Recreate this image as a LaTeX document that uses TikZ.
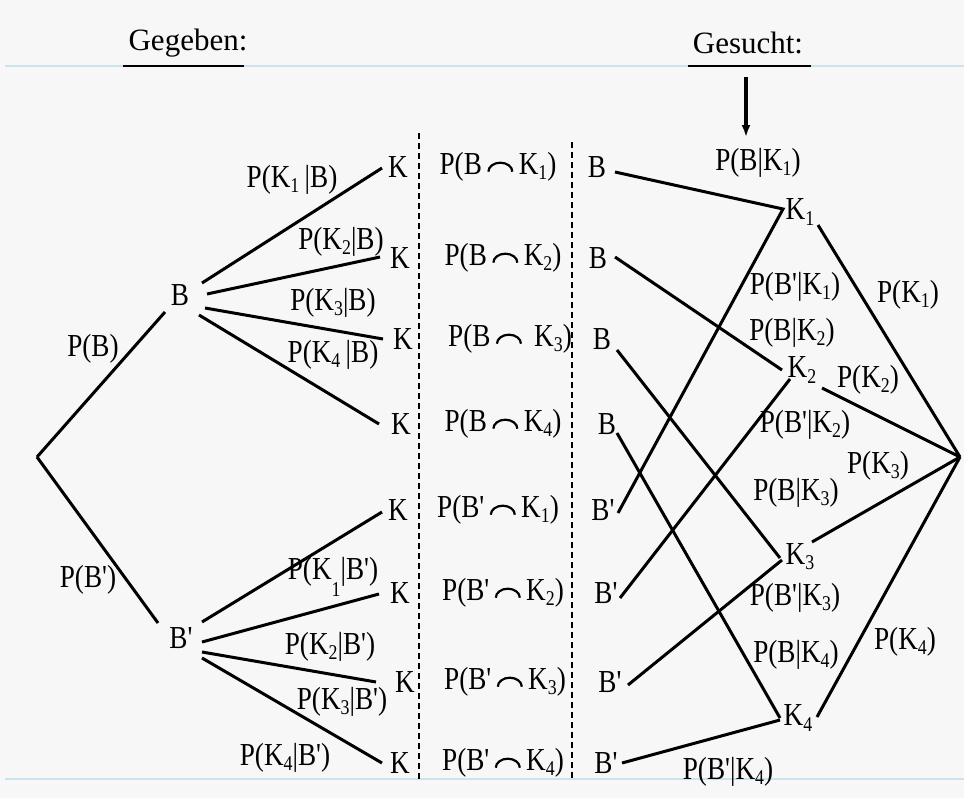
\documentclass[tikz,border=0pt]{standalone}
\usepackage{fontspec}
\newfontfamily\tnr{Liberation Serif}[FakeStretch=0.85]
\newfontfamily\tnh{Liberation Serif}
\usetikzlibrary{arrows.meta}
\newcommand\ix[1]{\raisebox{-0.35ex}{\fontsize{21}{21}\selectfont #1}}
\newcommand\cp{\,\tikz[baseline=0pt,x=1pt,y=1pt]\draw[line width=2.2pt] (0,3) arc[start angle=180,end angle=0,x radius=12,y radius=9];\,}
\definecolor{bg}{HTML}{F7F7F7}
\definecolor{rule}{HTML}{CBE3EC}
\begin{document}
\begin{tikzpicture}[x=1pt,y=-1pt,
  lab/.style={font=\tnr\fontsize{32}{35}\selectfont, inner sep=0pt},
  head/.style={font=\tnh\fontsize{31}{34}\selectfont, inner sep=0pt},
  edge/.style={line width=3pt},
  sep/.style={line width=1.8pt, dash pattern=on 6pt off 4pt},
  hline/.style={rule, line width=1.2pt}]
\useasboundingbox (0,0) rectangle (964,798);
\fill[bg] (0,0) rectangle (964,798);
\draw[hline] (5,66) -- (964,66);
\draw[hline] (5,779) -- (964,779);

% headers
\node[head] (geg) at (188,43) {Gegeben:};
\node[head] (ges) at (748,43) {Gesucht:};
\draw[line width=2.6pt] (123,66) -- (244,66);
\draw[line width=2.6pt] (688,66) -- (811,66);
\coordinate (arrS) at (746,77);
\coordinate (arrE) at (746,137);
\draw[line width=3.2pt, -{Latex[length=12pt,width=9pt]}] (arrS) -- (arrE);

% separators
\coordinate (s1t) at (419,133); \coordinate (s1b) at (419,779);
\coordinate (s2t) at (572,142); \coordinate (s2b) at (572,779);
\draw[sep] (s1t) -- (s1b);
\draw[sep] (s2t) -- (s2b);

% left tree
\coordinate (root) at (37,457);
\node[lab] (B) at (180,295) {B};
\node[lab] (Bp) at (181,638) {B'};
\coordinate (Bin) at (165,312);
\coordinate (Bpin) at (158,623);
\draw[edge] (root) -- (Bin);
\draw[edge] (root) -- (Bpin);
\node[lab] (pB) at (93,349) {P(B)};
\node[lab] (pBp) at (88,580) {P(B')};

% left K nodes
\node[lab] (k1) at (398,167) {K};
\node[lab] (k2) at (400,258) {K};
\node[lab] (k3) at (403,339) {K};
\node[lab] (k4) at (401,424) {K};
\node[lab] (k5) at (398,510) {K};
\node[lab] (k6) at (400,593) {K};
\node[lab] (k7) at (405,682) {K};
\node[lab] (k8) at (400,763) {K};

\coordinate (b1) at (202,283); \coordinate (e1) at (382,168);
\coordinate (b2) at (207,294); \coordinate (e2) at (380,257);
\coordinate (b3) at (205,308); \coordinate (e3) at (383,339);
\coordinate (b4) at (199,315); \coordinate (e4) at (379,424);
\coordinate (b5) at (202,622); \coordinate (e5) at (382,512);
\coordinate (b6) at (202,642); \coordinate (e6) at (379,594);
\coordinate (b7) at (202,652); \coordinate (e7) at (376,682);
\coordinate (b8) at (202,658); \coordinate (e8) at (382,763);
\foreach \i in {1,...,8} {\draw[edge] (b\i) -- (e\i);}

\node[lab] at (292,180) {P(K\ix{1}\,|B)};
\node[lab] at (341,242) {P(K\ix{2}|B)};
\node[lab] at (333,303) {P(K\ix{3}|B)};
\node[lab] at (333,355) {P(K\ix{4}\,|B)};
\node[lab] at (333,577) {P(K\raisebox{-1.2ex}{\fontsize{21}{21}\selectfont 1}|B')};
\node[lab] at (330,647) {P(K\ix{2}|B')};
\node[lab] at (342,702) {P(K\ix{3}|B')};
\node[lab] at (285,758) {P(K\ix{4}|B')};

% middle column
\node[lab] (m1) at (498,167) {P(B\cp K\ix{1})};
\node[lab] (m2) at (503,258) {P(B\cp K\ix{2})};
\node[lab] (m3) at (510,339) {P(B\cp\ K\ix{3})};
\node[lab] (m4) at (503,424) {P(B\cp K\ix{4})};
\node[lab] (m5) at (498,510) {P(B'\cp K\ix{1})};
\node[lab] (m6) at (503,593) {P(B'\cp K\ix{2})};
\node[lab] (m7) at (505,682) {P(B'\cp K\ix{3})};
\node[lab] (m8) at (503,763) {P(B'\cp K\ix{4})};

% right B nodes
\node[lab] (r1) at (597,167) {B};
\node[lab] (r2) at (598,258) {B};
\node[lab] (r3) at (602,339) {B};
\node[lab] (r4) at (607,424) {B};
\node[lab] (r5) at (603,510) {B'};
\node[lab] (r6) at (606,593) {B'};
\node[lab] (r7) at (610,682) {B'};
\node[lab] (r8) at (606,763) {B'};

% right K nodes
\node[lab] (K1) at (800,212) {K\ix{1}};
\node[lab] (K2) at (802,370) {K\ix{2}};
\node[lab] (K3) at (800,557) {K\ix{3}};
\node[lab] (K4) at (798,718) {K\ix{4}};
\coordinate (rroot) at (960,457);

\coordinate (q1) at (615,172); \coordinate (j1) at (783,209);
\coordinate (q5) at (618,513);
\coordinate (q2) at (615,257); \coordinate (j2) at (782,370);
\coordinate (j2b) at (790,379); \coordinate (q6) at (620,598);
\coordinate (q3) at (617,350); \coordinate (j3) at (780,558);
\coordinate (j3b) at (782,560); \coordinate (q7) at (628,685);
\coordinate (q4) at (617,433); \coordinate (j4) at (780,718);
\coordinate (j4b) at (780,720); \coordinate (q8) at (622,763);
\draw[edge] (q1) -- (j1) -- (q5);
\draw[edge] (q2) -- (j2);
\draw[edge] (j2b) -- (q6);
\draw[edge] (q3) -- (j3);
\draw[edge] (j3b) -- (q7);
\draw[edge] (q4) -- (j4);
\draw[edge] (j4b) -- (q8);

\coordinate (t1) at (818,225);
\coordinate (t2) at (822,388);
\coordinate (t3) at (812,542);
\coordinate (t4) at (817,717);
\draw[edge] (t1) -- (rroot);
\draw[edge] (t2) -- (rroot);
\draw[edge] (t3) -- (rroot);
\draw[edge] (t4) -- (rroot);

\node[lab] at (758,163) {P(B|K\ix{1})};
\node[lab] at (795,287) {P(B'|K\ix{1})};
\node[lab] at (908,295) {P(K\ix{1})};
\node[lab] at (792,333) {P(B|K\ix{2})};
\node[lab] at (868,380) {P(K\ix{2})};
\node[lab] at (805,425) {P(B'|K\ix{2})};
\node[lab] at (878,466) {P(K\ix{3})};
\node[lab] at (796,493) {P(B|K\ix{3})};
\node[lab] at (795,598) {P(B'|K\ix{3})};
\node[lab] at (796,655) {P(B|K\ix{4})};
\node[lab] at (905,642) {P(K\ix{4})};
\node[lab] at (728,772) {P(B'|K\ix{4})};
\end{tikzpicture}
\end{document}
